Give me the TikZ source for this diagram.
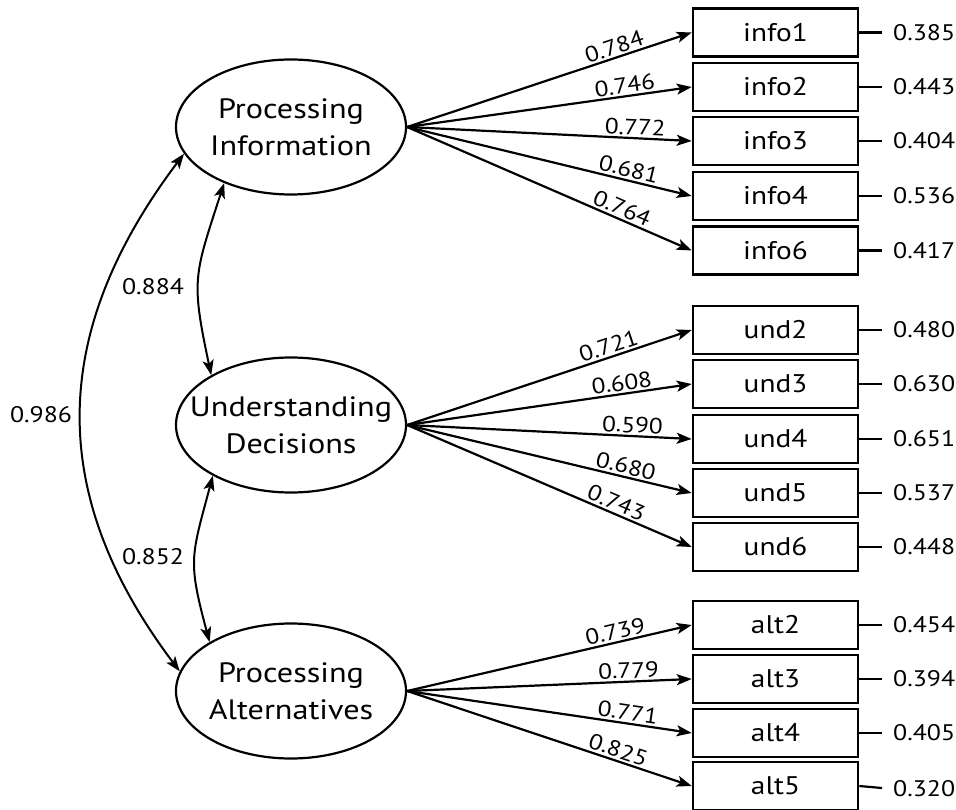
\documentclass[tikz,border=0pt]{standalone}
\usepackage{fontspec}
\setmainfont{PT Sans}[FakeStretch=1.15]
\usetikzlibrary{arrows.meta,shapes.geometric}
\begin{document}
\begin{tikzpicture}[x=1pt,y=1pt,
 lat/.style={ellipse,draw,line width=2.2pt,minimum width=230pt,minimum height=135pt,inner xsep=-30pt,inner ysep=-5pt,align=center,font=\fontsize{28}{37}\selectfont},
 obs/.style={rectangle,draw,line width=2.6pt,minimum width=165pt,minimum height=48pt,inner sep=0pt,font=\fontsize{25.5}{28}\selectfont},
 errlab/.style={anchor=west,inner sep=0pt,font=\fontsize{22.5}{26}\selectfont},
 load/.style={-{Stealth[length=15pt,width=11pt,inset=3.5pt]},line width=2.2pt},
 ldlab/.style={sloped,above=1pt,inner sep=1pt,font=\fontsize{22}{24}\selectfont},
 cov/.style={{Stealth[length=15pt,width=11pt,inset=3.5pt]}-{Stealth[length=15pt,width=11pt,inset=3.5pt]},line width=2pt},
 errline/.style={line width=2.2pt,shorten >=11pt},
 covlab/.style={inner sep=0pt,font=\fontsize{22.5}{26}\selectfont}]
\useasboundingbox (0,0) rectangle (956,-810);

% latent variables
\node[lat] (PI) at (291,-127) {Processing\\Information};
\node[lat] (UD) at (291,-425) {Understanding\\Decisions};
\node[lat] (PA) at (291,-691) {Processing\\Alternatives};

% indicators
\node[obs] (info1) at (775.5,-32.5) {info1};
\node[obs] (info2) at (775.5,-87) {info2};
\node[obs] (info3) at (775.5,-141) {info3};
\node[obs] (info4) at (775.5,-196) {info4};
\node[obs] (info6) at (775.5,-250.5) {info6};
\node[obs] (und2) at (775.5,-330) {und2};
\node[obs] (und3) at (775.5,-384) {und3};
\node[obs] (und4) at (775.5,-439) {und4};
\node[obs] (und5) at (775.5,-493) {und5};
\node[obs] (und6) at (775.5,-547) {und6};
\node[obs] (alt2) at (775.5,-625) {alt2};
\node[obs] (alt3) at (775.5,-679) {alt3};
\node[obs] (alt4) at (775.5,-733) {alt4};
\node[obs] (alt5) at (775.5,-786) {alt5};

% error values
\node[errlab] (e1) at (893,-32.5) {0.385};
\node[errlab] (e2) at (893,-87) {0.443};
\node[errlab] (e3) at (893,-141) {0.404};
\node[errlab] (e4) at (893,-196) {0.536};
\node[errlab] (e6) at (893,-250.5) {0.417};
\node[errlab] (u2) at (893,-330) {0.480};
\node[errlab] (u3) at (893,-384) {0.630};
\node[errlab] (u4) at (893,-439) {0.651};
\node[errlab] (u5) at (893,-493) {0.537};
\node[errlab] (u6) at (893,-547) {0.448};
\node[errlab] (a2) at (893,-625) {0.454};
\node[errlab] (a3) at (893,-679) {0.394};
\node[errlab] (a4) at (893,-733) {0.405};
\node[errlab] (a5) at (893,-789) {0.320};

\draw[errline] (info1.east) -- (e1.west);
\draw[errline] (info2.east) -- (e2.west);
\draw[errline] (info3.east) -- (e3.west);
\draw[errline] (info4.east) -- (e4.west);
\draw[errline] (info6.east) -- (e6.west);
\draw[errline] (und2.east) -- (u2.west);
\draw[errline] (und3.east) -- (u3.west);
\draw[errline] (und4.east) -- (u4.west);
\draw[errline] (und5.east) -- (u5.west);
\draw[errline] (und6.east) -- (u6.west);
\draw[errline] (alt2.east) -- (a2.west);
\draw[errline] (alt3.east) -- (a3.west);
\draw[errline] (alt4.east) -- (a4.west);
\draw[errline] (alt5.east) -- (a5.west);

% loadings
\draw[load] (PI.east) -- node[ldlab,pos=0.74]{0.784} (info1.west);
\draw[load] (PI.east) -- node[ldlab,pos=0.77]{0.746} (info2.west);
\draw[load] (PI.east) -- node[ldlab,pos=0.80]{0.772} (info3.west);
\draw[load] (PI.east) -- node[ldlab,pos=0.77]{0.681} (info4.west);
\draw[load] (PI.east) -- node[ldlab,pos=0.74]{0.764} (info6.west);

\draw[load] (UD.east) -- node[ldlab,pos=0.72]{0.721} (und2.west);
\draw[load] (UD.east) -- node[ldlab,pos=0.76]{0.608} (und3.west);
\draw[load] (UD.east) -- node[ldlab,pos=0.79]{0.590} (und4.west);
\draw[load] (UD.east) -- node[ldlab,pos=0.76]{0.680} (und5.west);
\draw[load] (UD.east) -- node[ldlab,pos=0.72]{0.743} (und6.west);

\draw[load] (PA.east) -- node[ldlab,pos=0.74]{0.739} (alt2.west);
\draw[load] (PA.east) -- node[ldlab,pos=0.78]{0.779} (alt3.west);
\draw[load] (PA.east) -- node[ldlab,pos=0.77]{0.771} (alt4.west);
\draw[load] (PA.east) -- node[ldlab,pos=0.73]{0.825} (alt5.west);

% covariances
\draw[cov] (PI.194) to[out=233,in=127,looseness=1.1] (PA.170);
\draw[cov] (PI.220) to[out=252,in=102,looseness=1.3] (UD.148);
\draw[cov] (UD.213) to[out=255,in=105,looseness=1.3] (PA.149);

\node[covlab] (c1) at (153,-287) {0.884};
\node[covlab] (c2) at (153,-557) {0.852};
\node[covlab] (c3) at (41,-415) {0.986};
\end{tikzpicture}
\end{document}
